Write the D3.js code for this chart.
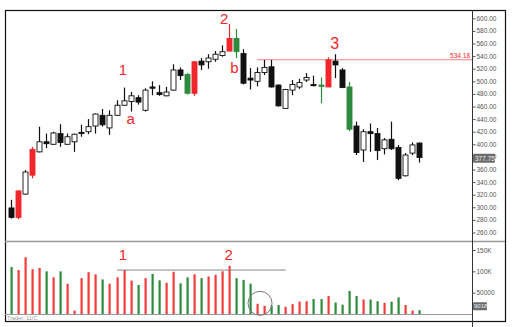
<!DOCTYPE html>
<html><head><meta charset="utf-8">
<script src="https://cdn.jsdelivr.net/npm/d3@7"></script>
<style>body{margin:0;background:#fff}svg{display:block}</style>
</head><body><svg id="c" width="518" height="327"></svg>
<script>
// ---- data ----
const opens  = [299,284,321,351,388,404,400,417,400,404,419,420,429,446,426,446,462,468,474,454,491,482,477,486,518,511,481,532,531,535,541,548,568,544,505,500,514,523,494,457,486,491,502,495,494,491,532,518,491,429,391,420,417,393,408,395,350,386,402];
const highs  = [312,327,359,396,428,417,420,432,417,417,431,440,449,456,454,470,490,483,478,489,500,494,491,527,522,513,532,537,543,548,557,591,583,551,521,522,534,534,495,488,502,504,513,509,506,538,543,521,499,436,424,433,426,410,436,399,386,403,403];
const lows   = [282,281,320,346,387,394,399,396,399,388,412,416,417,428,415,445,461,452,463,452,478,477,476,485,502,479,477,518,520,531,539,548,537,495,487,492,510,490,460,456,478,488,499,492,465,491,505,490,421,383,372,388,375,384,391,343,349,383,371];
const closes = [284,326,356,392,404,401,418,403,412,416,417,428,448,431,446,462,469,477,467,486,489,479,483,518,509,481,531,526,537,543,547,568,547,497,502,514,522,491,461,487,495,498,506,493,492,534,526,490,424,387,420,417,390,407,393,346,383,399,379];
// candle style: n = hollow/black by direction, r = red highlight, g = green highlight
const candleKinds = "nrnrnnnnnnnnnnnnnnnnnnnnngrnnnnrgnnnnnnnnnnngrnngnnnnnnnnnn".split("");
const volumes = [110000,103000,133000,105000,108000,100000,86000,100000,71000,8000,84000,98000,93000,81000,71000,86000,103000,78000,68000,84000,94000,79000,73000,99000,72000,86000,93000,84000,88000,92000,100000,113000,84000,80000,71000,24000,19000,20000,21000,17000,23000,29000,30000,35000,35000,42000,27000,22000,54000,42000,34000,34000,30000,26000,29000,39000,21000,8000,9018];
const volColors = "grrrrgrgrrrrrgrrrrgrggrrggrgrrrrgggrrggrrrrggrggggrggrggrrg".split("");
const priceTicks = [260,280,300,320,340,360,380,400,420,440,460,480,500,520,540,560,580,600];
const volTicks = [50000,100000,150000];
const volTickLabels = ["50000","100K","150K"];
const resistance = 534.18;
const lastPrice = 377.75;
const priceNotes = [{t:"1",i:15.9,v:510},{t:"a",i:17,v:432},{t:"2",i:30.3,v:591},{t:"b",i:31.75,v:513},{t:"3",i:46,v:552}];
const volNotes = [{t:"1",i:15.9,v:127000},{t:"2",i:30.95,v:127000}];
const volLevel = {from:15.07, to:39.05, v:103000};
const volCircle = {i:35.4, v:25000};
const resistFrom = 35.0;

// ---- layout ----
const svg = d3.select("#c");
const red="#f0262b", green="#2e8b3e";
const x = d3.scaleLinear().domain([0, opens.length-1]).range([11, 419]);
const y = d3.scaleLinear().domain([260, 600]).range([232.5, 18.3]);
const yv = d3.scaleLinear().domain([0, 150000]).range([314, 250]);
const axisX = 472;
const font = "Liberation Sans, Arial, sans-serif";

// frame & separators
svg.append("rect").attr("x",5.5).attr("y",10.5).attr("width",500).attr("height",311)
  .attr("fill","none").attr("stroke","#111").attr("stroke-width",1.2);
svg.append("line").attr("x1",5).attr("x2",505).attr("y1",241.5).attr("y2",241.5)
  .attr("stroke","#999").attr("stroke-width",1.6);
svg.append("line").attr("x1",5).attr("x2",axisX).attr("y1",314.5).attr("y2",314.5)
  .attr("stroke","#999").attr("stroke-width",1.2);
svg.append("line").attr("x1",axisX+0.5).attr("x2",axisX+0.5).attr("y1",10).attr("y2",327)
  .attr("stroke","#333").attr("stroke-width",1);

// price axis
const pa = svg.append("g").attr("transform",`translate(${axisX+0.5},0)`)
  .call(d3.axisRight(y).tickValues(priceTicks).tickFormat(d3.format(".2f")).tickSize(3).tickPadding(1));
pa.select(".domain").remove();
pa.selectAll("text").attr("font-size",6.5).attr("font-family",font).attr("fill","#555");
pa.selectAll("line").attr("stroke","#555");

// volume axis
const va = svg.append("g").attr("transform",`translate(${axisX+0.5},0)`)
  .call(d3.axisRight(yv).tickValues(volTicks).tickFormat((d,i)=>volTickLabels[i]).tickSize(3).tickPadding(1));
va.select(".domain").remove();
va.selectAll("text").attr("font-size",6.5).attr("font-family",font).attr("fill","#555");
va.selectAll("line").attr("stroke","#555");

// resistance line
svg.append("line").attr("x1",x(resistFrom)).attr("x2",axisX).attr("y1",y(resistance)).attr("y2",y(resistance))
  .attr("stroke","#f47c7c").attr("stroke-width",1);
svg.append("text").attr("x",axisX-2).attr("y",y(resistance)-1.5).attr("text-anchor","end")
  .attr("font-size",6.5).attr("font-family",font).attr("fill",red).text(resistance.toFixed(2));

// candles
const idx = d3.range(opens.length);
const cw = 5;
const colorOf = i => candleKinds[i]==="r" ? red : candleKinds[i]==="g" ? green : "#111";
const gC = svg.append("g");
gC.selectAll("line.w").data(idx).join("line")
  .attr("x1",i=>Math.round(x(i))+0.5).attr("x2",i=>Math.round(x(i))+0.5)
  .attr("y1",i=>y(highs[i])).attr("y2",i=>y(lows[i]))
  .attr("stroke",colorOf).attr("stroke-width",1.2);
gC.selectAll("rect").data(idx).join("rect")
  .attr("x",i=>Math.round(x(i))+0.5-cw/2)
  .attr("y",i=>y(Math.max(opens[i],closes[i])))
  .attr("width",cw)
  .attr("height",i=>Math.max(1.2, Math.abs(y(opens[i])-y(closes[i]))))
  .attr("fill",i=>candleKinds[i]!=="n" ? colorOf(i) : (closes[i]>=opens[i] ? "#fff" : "#111"))
  .attr("stroke",colorOf).attr("stroke-width",0.9);

// last price box
svg.append("rect").attr("x",axisX+1).attr("y",y(lastPrice)-4.5).attr("width",22).attr("height",9)
  .attr("fill","#6b6b6b").attr("rx",1);
svg.append("text").attr("x",axisX+3).attr("y",y(lastPrice)+2.3).attr("font-size",6.5)
  .attr("font-family",font).attr("fill","#eee").text(lastPrice.toFixed(2));

// volume bars
svg.append("g").selectAll("rect").data(volumes).join("rect")
  .attr("x",(d,i)=>Math.round(x(i))-0.5).attr("width",2.2)
  .attr("y",d=>yv(d)).attr("height",d=>yv(0)-yv(d))
  .attr("fill",(d,i)=>volColors[i]==="g"?green:"#f23b3b");

// last volume box
const lastVol = volumes[volumes.length-1];
svg.append("rect").attr("x",axisX+1).attr("y",yv(lastVol)-8).attr("width",14).attr("height",8)
  .attr("fill","#6b6b6b").attr("rx",1);
svg.append("text").attr("x",axisX+2).attr("y",yv(lastVol)-2).attr("font-size",6)
  .attr("font-family",font).attr("fill","#eee").text(lastVol);

// volume annotations
svg.append("line").attr("x1",x(volLevel.from)).attr("x2",x(volLevel.to)).attr("y1",yv(volLevel.v)).attr("y2",yv(volLevel.v))
  .attr("stroke","#888").attr("stroke-width",1);
svg.append("circle").attr("cx",x(volCircle.i)).attr("cy",yv(volCircle.v)).attr("r",12)
  .attr("fill","none").attr("stroke","#777").attr("stroke-width",1);

// text notes
svg.append("g").selectAll("text").data(priceNotes).join("text")
  .attr("x",d=>x(d.i)).attr("y",d=>y(d.v)).attr("text-anchor","middle")
  .attr("font-size",d=>d.t==="3"?16:15).attr("font-family",font).attr("fill",red).text(d=>d.t);
svg.append("g").selectAll("text").data(volNotes).join("text")
  .attr("x",d=>x(d.i)).attr("y",d=>yv(d.v)).attr("text-anchor","middle")
  .attr("font-size",15).attr("font-family",font).attr("fill",red).text(d=>d.t);

// source label
svg.append("text").attr("x",7).attr("y",320).attr("font-size",5.5).attr("font-family",font)
  .attr("fill","#999").text("Trader: 11/C");
</script></body></html>
